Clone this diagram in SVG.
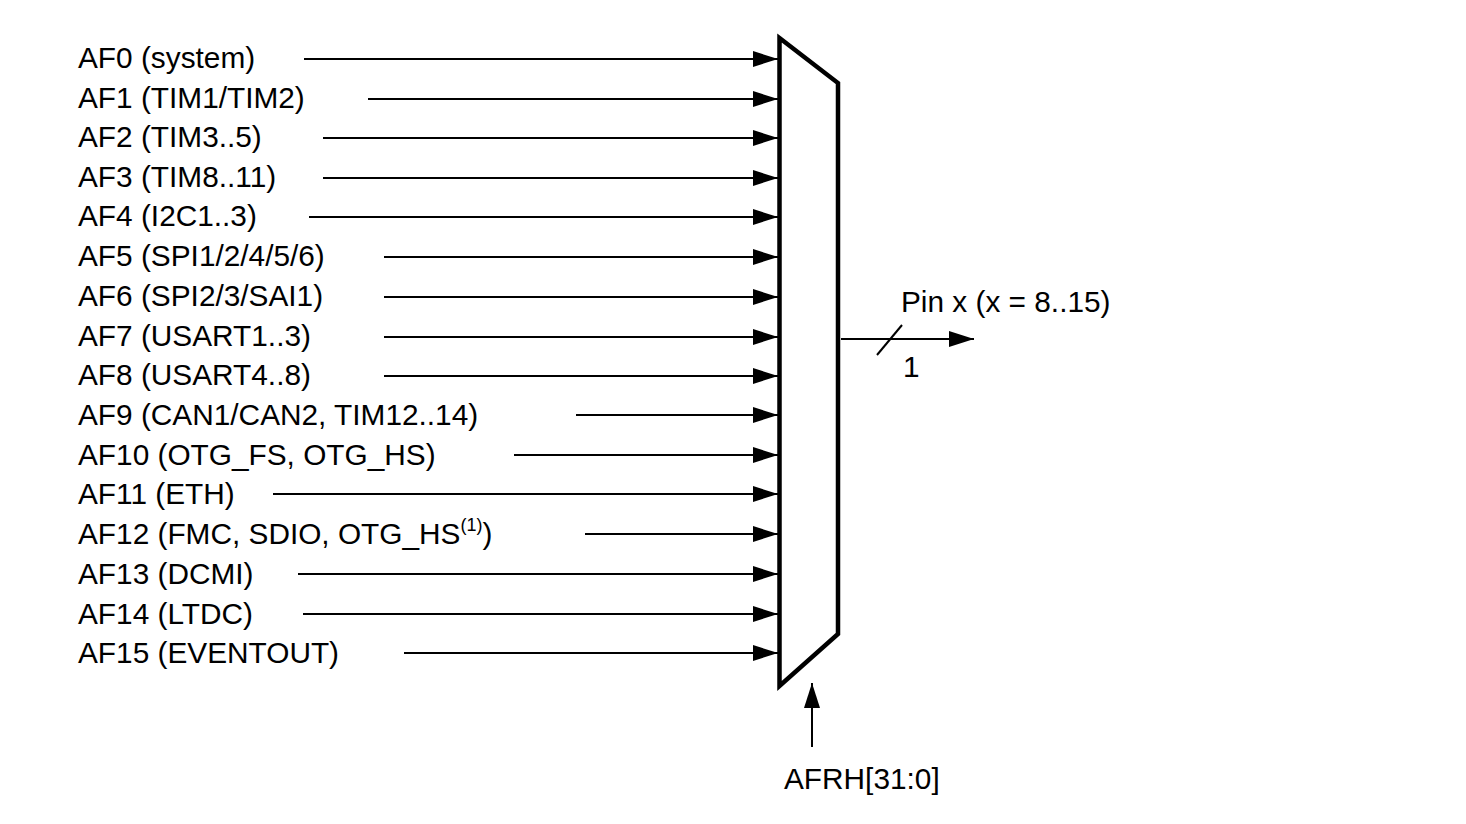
<svg xmlns="http://www.w3.org/2000/svg" width="1466" height="824" viewBox="0 0 1466 824">
<style>
text{font-family:"Liberation Sans",Arial,sans-serif;font-size:29.8px;fill:#000}
.c line{stroke:#000;stroke-width:2}
.sup{font-size:18px}
</style>
<defs>
<marker id="ah" markerUnits="userSpaceOnUse" markerWidth="26" markerHeight="16" refX="25" refY="8" orient="auto">
<path d="M0,0 L25,8 L0,16 Z" fill="#000"/>
</marker>
</defs>
<rect width="1466" height="824" fill="#fff"/>
<g id="labels">
<text x="78" y="68">AF0 (system)</text>
<text x="78" y="108">AF1 (TIM1/TIM2)</text>
<text x="78" y="147">AF2 (TIM3..5)</text>
<text x="78" y="187">AF3 (TIM8..11)</text>
<text x="78" y="226">AF4 (I2C1..3)</text>
<text x="78" y="266">AF5 (SPI1/2/4/5/6)</text>
<text x="78" y="306">AF6 (SPI2/3/SAI1)</text>
<text x="78" y="346">AF7 (USART1..3)</text>
<text x="78" y="385">AF8 (USART4..8)</text>
<text x="78" y="425">AF9 (CAN1/CAN2, TIM12..14)</text>
<text x="78" y="465">AF10 (OTG_FS, OTG_HS)</text>
<text x="78" y="504">AF11 (ETH)</text>
<text x="78" y="544">AF12 (FMC, SDIO, OTG_HS<tspan class="sup" dy="-13">(1)</tspan><tspan dy="13">)</tspan></text>
<text x="78" y="584">AF13 (DCMI)</text>
<text x="78" y="624">AF14 (LTDC)</text>
<text x="78" y="663">AF15 (EVENTOUT)</text>
</g>
<g id="connectors" class="c">
<line x1="304" y1="59" x2="778" y2="59" marker-end="url(#ah)"/>
<line x1="368" y1="99" x2="778" y2="99" marker-end="url(#ah)"/>
<line x1="323" y1="138" x2="778" y2="138" marker-end="url(#ah)"/>
<line x1="323" y1="178" x2="778" y2="178" marker-end="url(#ah)"/>
<line x1="309" y1="217" x2="778" y2="217" marker-end="url(#ah)"/>
<line x1="384" y1="257" x2="778" y2="257" marker-end="url(#ah)"/>
<line x1="384" y1="297" x2="778" y2="297" marker-end="url(#ah)"/>
<line x1="384" y1="337" x2="778" y2="337" marker-end="url(#ah)"/>
<line x1="384" y1="376" x2="778" y2="376" marker-end="url(#ah)"/>
<line x1="576" y1="415" x2="778" y2="415" marker-end="url(#ah)"/>
<line x1="514" y1="455" x2="778" y2="455" marker-end="url(#ah)"/>
<line x1="273" y1="494" x2="778" y2="494" marker-end="url(#ah)"/>
<line x1="585" y1="534" x2="778" y2="534" marker-end="url(#ah)"/>
<line x1="298" y1="574" x2="778" y2="574" marker-end="url(#ah)"/>
<line x1="303" y1="614" x2="778" y2="614" marker-end="url(#ah)"/>
<line x1="404" y1="653" x2="778" y2="653" marker-end="url(#ah)"/>
<line x1="841" y1="339" x2="974" y2="339" marker-end="url(#ah)"/>
<line x1="877" y1="355" x2="902" y2="325"/>
<line x1="812" y1="747" x2="812" y2="683" marker-end="url(#ah)"/>
</g>
<g id="mux">
<polygon points="779.5,38 838,83 838,634 779.5,686" fill="#fff" stroke="#000" stroke-width="4.5" stroke-linejoin="miter"/>
</g>
<g id="output">
<text x="901" y="312">Pin x (x = 8..15)</text>
<text x="903" y="377">1</text>
</g>
<g id="select">
<text x="784" y="789">AFRH[31:0]</text>
</g>
</svg>
